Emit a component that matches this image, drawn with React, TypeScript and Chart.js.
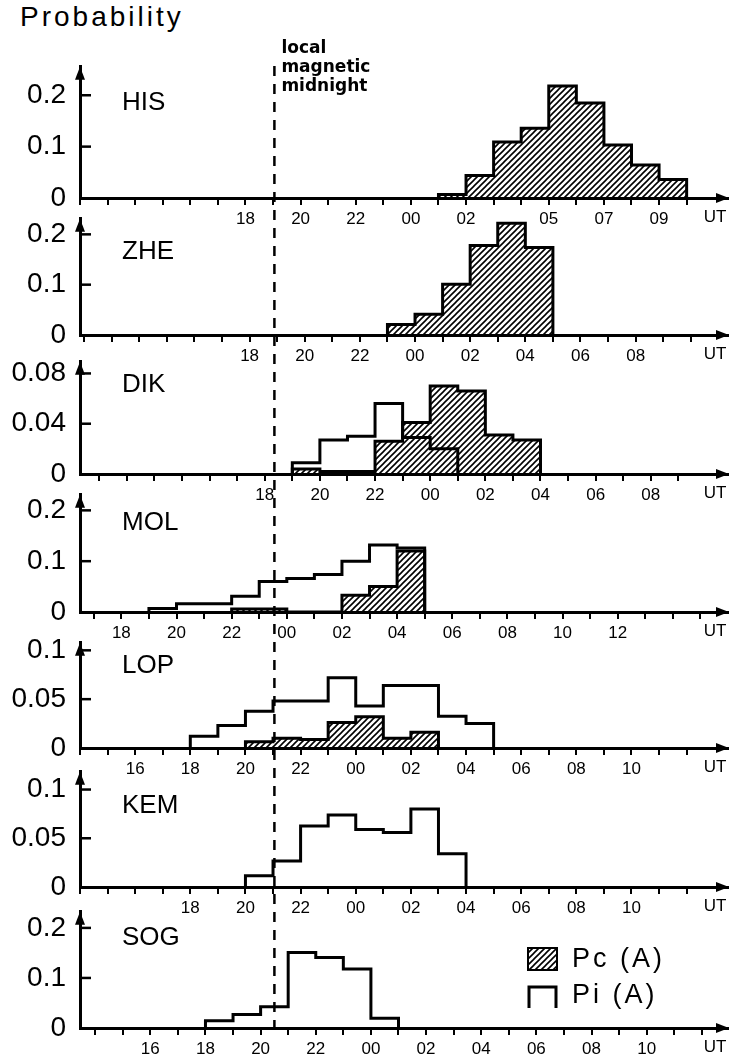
import React, { useEffect, useRef } from 'react';
import { Chart, registerables } from 'chart.js';

Chart.register(...registerables);

// ---------------- data ----------------
const STATIONS = ['HIS', 'ZHE', 'DIK', 'MOL', 'LOP', 'KEM', 'SOG'];
// UT hour of local magnetic midnight for each station (dashed line)
const MIDNIGHT_UT = [19.05, 18.9, 18.35, 23.55, 21.05, 21.05, 20.5];

const Y_TICKS = [
  [0, 0.1, 0.2],
  [0, 0.1, 0.2],
  [0, 0.04, 0.08],
  [0, 0.1, 0.2],
  [0, 0.05, 0.1],
  [0, 0.05, 0.1],
  [0, 0.1, 0.2],
];

const X_TICK_LABELS = [
  ['18', '20', '22', '00', '02', '05', '07', '09'],
  ['18', '20', '22', '00', '02', '04', '06', '08'],
  ['18', '20', '22', '00', '02', '04', '06', '08'],
  ['18', '20', '22', '00', '02', '04', '06', '08', '10', '12'],
  ['16', '18', '20', '22', '00', '02', '04', '06', '08', '10'],
  ['18', '20', '22', '00', '02', '04', '06', '08', '10'],
  ['16', '18', '20', '22', '00', '02', '04', '06', '08', '10'],
];

// first hourly bin (UT hour of day) of each histogram
const PC_START = [1, 23, 19, 22, 20, null, null];
const PI_START = [null, null, 19, 19, 18, 20, 18];

const HIS_PC = [0.007, 0.044, 0.109, 0.136, 0.218, 0.185, 0.103, 0.064, 0.036];
const ZHE_PC = [0.021, 0.041, 0.101, 0.178, 0.222, 0.174];
const DIK_PC = [0.004, 0.002, 0.002, 0.026, 0.041, 0.07, 0.066, 0.031, 0.027];
const DIK_PI = [0.009, 0.027, 0.03, 0.056, 0.029, 0.02];
const MOL_PC = [0.006, 0.006, 0, 0, 0.033, 0.05, 0.12];
const MOL_PI = [0.007, 0.016, 0.016, 0.031, 0.06, 0.066, 0.074, 0.1, 0.132, 0.126];
const LOP_PC = [0.0065, 0.01, 0.0087, 0.026, 0.032, 0.01, 0.016];
const LOP_PI = [0.012, 0.023, 0.0375, 0.048, 0.048, 0.072, 0.043, 0.064, 0.064, 0.0325, 0.025];
const KEM_PI = [0.0116, 0.0266, 0.0625, 0.074, 0.059, 0.056, 0.08, 0.034];
const SOG_PI = [0.0146, 0.027, 0.0426, 0.151, 0.141, 0.118, 0.0195];

const PC_SERIES = [HIS_PC, ZHE_PC, DIK_PC, MOL_PC, LOP_PC, null, null];
const PI_SERIES = [null, null, DIK_PI, MOL_PI, LOP_PI, KEM_PI, SOG_PI];

const LEGEND_LABELS = ['Pc (A)', 'Pi (A)'];
const TITLE = 'Probability';
const MIDNIGHT_NOTE = ['local', 'magnetic', 'midnight'];

// ---------------- layout ----------------
const W = 730;
const BASELINE = [198, 335, 474, 612, 748, 887, 1028];
const ARROW_LEN = [142, 127, 123, 128, 116, 126, 127];
const PX_PER_UNIT = [556, 550, 1378, 555, 1077, 1066, 547];
const NAME_DY = [95.5, 83.5, 89, 89.5, 82, 81, 90.5];
const PAD_TOP = 20;
const AXIS_H = 40;
const LEFT = 80;
const RIGHT_PAD = 2;
const HOURS_SPAN = 23.5;
const MID_REL = 7.05;
const DASH_TOP = 66;
const FONT = '"Liberation Sans", Arial, sans-serif';

function unwrap(h: number, min: number) {
  let v = h;
  while (v < min - 1e-6) v += 24;
  return v;
}

function stepPoints(start: number, vals: number[]) {
  const pts = [{ x: start, y: 0 }];
  vals.forEach((v, k) => pts.push({ x: start + k, y: v }));
  pts.push({ x: start + vals.length, y: 0 });
  return pts;
}

function makeHatch(ctx: CanvasRenderingContext2D) {
  const c = document.createElement('canvas');
  c.width = 6;
  c.height = 6;
  const g = c.getContext('2d')!;
  g.strokeStyle = '#000';
  g.lineWidth = 1.6;
  g.beginPath();
  g.moveTo(-1, 7);
  g.lineTo(7, -1);
  g.moveTo(-1, 1);
  g.lineTo(1, -1);
  g.moveTo(5, 7);
  g.lineTo(7, 5);
  g.stroke();
  return ctx.createPattern(c, 'repeat');
}

function Panel({ i }: { i: number }) {
  const ref = useRef<HTMLCanvasElement | null>(null);
  const canvasTop = BASELINE[i] - ARROW_LEN[i] - PAD_TOP;
  const H = PAD_TOP + ARROW_LEN[i] + AXIS_H;

  useEffect(() => {
    const canvas = ref.current!;
    const ctx0 = canvas.getContext('2d')!;
    const hatch = makeHatch(ctx0);
    const xMin = Math.round((MIDNIGHT_UT[i] - MID_REL) * 1e6) / 1e6;
    const xMax = xMin + HOURS_SPAN;
    const yMax = ARROW_LEN[i] / PX_PER_UNIT[i];

    const hours: number[] = [];
    for (let h = Math.ceil(xMin - 1e-6); h <= Math.floor(xMin + 22.6); h++) hours.push(h);
    const labelMap = new Map<number, string>();
    X_TICK_LABELS[i].forEach((s) => labelMap.set(unwrap(parseInt(s, 10), xMin), s));

    const datasets: any[] = [];
    const pc = PC_SERIES[i];
    if (pc) {
      datasets.push({
        data: stepPoints(unwrap(PC_START[i] as number, xMin), pc),
        borderColor: '#000',
        borderWidth: 3,
        backgroundColor: hatch,
        fill: 'origin',
        stepped: 'before',
        pointRadius: 0,
        borderJoinStyle: 'miter',
        order: 2,
      });
    }
    const pi = PI_SERIES[i];
    if (pi) {
      datasets.push({
        data: stepPoints(unwrap(PI_START[i] as number, xMin), pi),
        borderColor: '#000',
        borderWidth: 3,
        backgroundColor: 'transparent',
        fill: false,
        stepped: 'before',
        pointRadius: 0,
        borderJoinStyle: 'miter',
        order: 1,
      });
    }

    const deco = {
      id: 'deco' + i,
      afterDraw(chart: any) {
        const { ctx, chartArea: ca, scales } = chart;
        const xs = scales.x;
        const ys = scales.y;
        const by = ca.bottom;
        ctx.save();
        ctx.strokeStyle = '#000';
        ctx.fillStyle = '#000';
        // inward y ticks
        ctx.lineWidth = 2.5;
        Y_TICKS[i].forEach((v) => {
          if (v === 0) return;
          const y = ys.getPixelForValue(v);
          ctx.beginPath();
          ctx.moveTo(ca.left, y);
          ctx.lineTo(ca.left + 11, y);
          ctx.stroke();
        });
        // y arrow
        ctx.beginPath();
        ctx.moveTo(ca.left, ca.top);
        ctx.lineTo(ca.left - 5, ca.top + 13);
        ctx.lineTo(ca.left + 5, ca.top + 13);
        ctx.closePath();
        ctx.fill();
        // x arrow
        ctx.beginPath();
        ctx.moveTo(ca.right + 1, by);
        ctx.lineTo(ca.right - 12, by - 5);
        ctx.lineTo(ca.right - 12, by + 5);
        ctx.closePath();
        ctx.fill();
        // UT
        ctx.font = '17px ' + FONT;
        ctx.textAlign = 'center';
        ctx.textBaseline = 'top';
        ctx.fillText('UT', ca.right - 13, by + 11);
        // station name
        ctx.font = '26px ' + FONT;
        ctx.textAlign = 'left';
        ctx.textBaseline = 'middle';
        ctx.fillText(STATIONS[i], ca.left + 42, by - NAME_DY[i]);
        // dashed midnight line
        const mx = xs.getPixelForValue(MIDNIGHT_UT[i]);
        const yFromAbs = i === 0 ? DASH_TOP : BASELINE[i - 1];
        ctx.setLineDash([10, 8]);
        ctx.lineDashOffset = yFromAbs - DASH_TOP;
        ctx.lineWidth = 2.5;
        ctx.beginPath();
        ctx.moveTo(mx, yFromAbs - canvasTop);
        ctx.lineTo(mx, by);
        ctx.stroke();
        ctx.setLineDash([]);
        if (i === 0) {
          ctx.font = 'bold 17px "DejaVu Sans", sans-serif';
          ctx.textAlign = 'left';
          ctx.textBaseline = 'alphabetic';
          const bl = [53, 72, 91];
          MIDNIGHT_NOTE.forEach((t, k) => ctx.fillText(t, mx + 7, bl[k] - canvasTop));
        }
        if (i === STATIONS.length - 1) {
          const bx = ca.left + 448;
          const y1 = 948 - canvasTop;
          ctx.fillStyle = hatch;
          ctx.fillRect(bx, y1, 29, 22);
          ctx.lineWidth = 2;
          ctx.strokeRect(bx, y1, 29, 22);
          ctx.lineWidth = 3;
          const y2 = 987 - canvasTop;
          ctx.beginPath();
          ctx.moveTo(bx + 1, y2 + 21);
          ctx.lineTo(bx + 1, y2);
          ctx.lineTo(bx + 28, y2);
          ctx.lineTo(bx + 28, y2 + 21);
          ctx.stroke();
          ctx.fillStyle = '#000';
          ctx.font = '27px ' + FONT;
          (ctx as any).letterSpacing = '3px';
          ctx.textAlign = 'left';
          ctx.textBaseline = 'middle';
          ctx.fillText(LEGEND_LABELS[0], bx + 44, y1 + 11.5);
          ctx.fillText(LEGEND_LABELS[1], bx + 44, y2 + 9);
          (ctx as any).letterSpacing = '0px';
        }
        ctx.restore();
      },
    };

    const chart = new Chart(canvas, {
      type: 'line',
      data: { datasets },
      plugins: [deco],
      options: {
        animation: false,
        responsive: false,
        maintainAspectRatio: false,
        events: [],
        layout: { padding: { top: PAD_TOP, right: RIGHT_PAD, left: 0, bottom: 0 } },
        plugins: { legend: { display: false }, tooltip: { enabled: false }, title: { display: false } },
        elements: { point: { radius: 0 }, line: { tension: 0 } },
        scales: {
          x: {
            type: 'linear',
            position: 'bottom',
            min: xMin,
            max: xMax,
            afterFit: (s: any) => {
              s.height = AXIS_H;
            },
            afterBuildTicks: (s: any) => {
              s.ticks = hours.map((v) => ({ value: v }));
            },
            grid: { display: true, drawOnChartArea: false, drawTicks: true, tickLength: 7, lineWidth: 2, color: '#000' },
            border: { display: true, width: 3, color: '#000' },
            ticks: {
              autoSkip: false,
              maxRotation: 0,
              padding: 4,
              color: '#000',
              font: { family: FONT, size: 17 },
              callback: (v: any) => labelMap.get(Math.round(v)) ?? '',
            },
          },
          y: {
            type: 'linear',
            position: 'left',
            min: 0,
            max: yMax,
            afterFit: (s: any) => {
              s.width = LEFT;
            },
            afterBuildTicks: (s: any) => {
              s.ticks = Y_TICKS[i].map((v) => ({ value: v }));
            },
            grid: { display: false, drawTicks: false },
            border: { display: true, width: 3, color: '#000' },
            ticks: {
              padding: 14,
              color: '#000',
              font: { family: FONT, size: 28 },
              callback: (v: any) => String(v),
            },
          },
        },
      } as any,
    });
    return () => chart.destroy();
  }, [i]);

  return (
    <canvas
      ref={ref}
      width={W}
      height={H}
      style={{ position: 'absolute', left: 0, top: canvasTop, width: W, height: H }}
    />
  );
}

export default function App() {
  return (
    <div
      style={{
        position: 'absolute',
        left: 0,
        top: 0,
        width: W,
        height: 1062,
        overflow: 'hidden',
        background: '#fff',
      }}
    >
      <div
        style={{
          position: 'absolute',
          left: 20,
          top: 3,
          font: '28px ' + FONT,
          lineHeight: '28px',
          letterSpacing: '3px',
          color: '#000',
          whiteSpace: 'nowrap',
        }}
      >
        {TITLE}
      </div>
      {STATIONS.map((s, i) => (
        <Panel key={s} i={i} />
      ))}
    </div>
  );
}
